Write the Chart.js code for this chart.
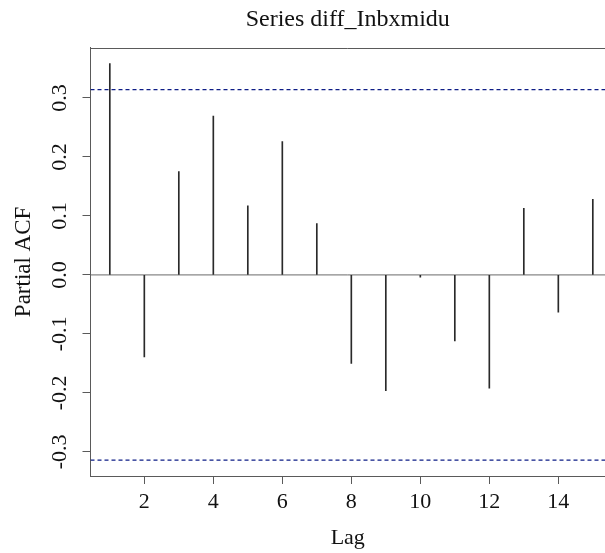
<!DOCTYPE html>
<html>
<head>
<meta charset="utf-8">
<style>
  html, body { margin: 0; padding: 0; background: #fff; }
  #c { display: block; }
</style>
<script src="https://cdn.jsdelivr.net/npm/chart.js@4.4.1/dist/chart.umd.min.js"></script>
</head>
<body>
<canvas id="c" width="605" height="553"></canvas>
<script>
// ---- data ----
const lags = [1, 2, 3, 4, 5, 6, 7, 8, 9, 10, 11, 12, 13, 14, 15];
const pacfValues = [0.358, -0.139, 0.175, 0.269, 0.117, 0.226, 0.087, -0.150, -0.196, -0.004, -0.112, -0.192, 0.113, -0.063, 0.128];
const confLimit = 0.3139;
const yTickValues = [-0.3, -0.2, -0.1, 0.0, 0.1, 0.2, 0.3];
const xTickValues = [2, 4, 6, 8, 10, 12, 14];
const titleText = 'Series diff_Inbxmidu';
const xLabel = 'Lag';
const yLabel = 'Partial ACF';

// axis ranges (R style: data range extended by 4%)
const xMin = 0.44, xMax = 15.353;
const yLo = Math.min(-confLimit, ...pacfValues), yHi = Math.max(confLimit, ...pacfValues);
const ySpan = yHi - yLo;
const yMin = yLo - 0.04 * ySpan, yMax = yHi + 0.04 * ySpan;

const FONT = 'Liberation Serif';
const AXIS = '#5a5a5a';
const DASH = '#0d1c86';

const spikes = lags.map((l, i) => ({ x: l, y: pacfValues[i] }));
const hline = v => [{ x: xMin, y: v }, { x: xMax, y: v }];

const topBorder = {
  id: 'topBorder',
  afterDraw(chart) {
    const { ctx, chartArea } = chart;
    ctx.save();
    ctx.strokeStyle = AXIS;
    ctx.lineWidth = 1;
    const y = Math.round(chartArea.top) + 0.5;
    ctx.beginPath();
    ctx.moveTo(chartArea.left, y);
    ctx.lineTo(chartArea.right, y);
    ctx.stroke();
    ctx.restore();
  }
};

new Chart(document.getElementById('c'), {
  data: {
    datasets: [
      { type: 'line', data: hline(0), borderColor: '#6a6a6a', borderWidth: 1, pointRadius: 0, order: 3 },
      { type: 'line', data: hline(confLimit), borderColor: DASH, borderWidth: 1.2, borderDash: [4, 3], pointRadius: 0, order: 2 },
      { type: 'line', data: hline(-confLimit), borderColor: DASH, borderWidth: 1.2, borderDash: [4, 3], pointRadius: 0, order: 2 },
      { type: 'bar', data: spikes, backgroundColor: '#2a2a2a', borderWidth: 0, barThickness: 1, order: 1 }
    ]
  },
  options: {
    responsive: false,
    devicePixelRatio: 1,
    animation: false,
    layout: { padding: 0 },
    plugins: {
      legend: { display: false },
      tooltip: { enabled: false },
      title: {
        display: true,
        text: titleText,
        fullSize: false,
        color: '#111',
        font: { family: FONT, size: 24, weight: 'normal' },
        padding: { top: 5, bottom: 14 }
      }
    },
    scales: {
      x: {
        type: 'linear',
        offset: false,
        min: xMin,
        max: xMax,
        afterBuildTicks: s => { s.ticks = xTickValues.map(v => ({ value: v })); },
        afterFit: s => { s.height = 77; },
        grid: { display: true, offset: false, drawOnChartArea: false, drawTicks: true, tickLength: 8, color: AXIS },
        border: { display: true, color: AXIS, width: 1 },
        ticks: {
          color: '#111',
          font: { family: FONT, size: 22 },
          padding: 5,
          maxRotation: 0,
          minRotation: 0,
          callback: v => String(v)
        },
        title: {
          display: true,
          text: xLabel,
          color: '#111',
          font: { family: FONT, size: 22 },
          padding: { top: 0, bottom: 2 }
        }
      },
      y: {
        type: 'linear',
        min: yMin,
        max: yMax,
        afterBuildTicks: s => { s.ticks = yTickValues.map(v => ({ value: v })); },
        afterFit: s => { s.width = 90.5; },
        grid: { display: true, drawOnChartArea: false, drawTicks: true, tickLength: 8, color: AXIS },
        border: { display: true, color: AXIS, width: 1 },
        ticks: {
          color: '#111',
          font: { family: FONT, size: 22 },
          padding: 5,
          minRotation: 90,
          maxRotation: 90,
          crossAlign: 'center',
          callback: v => Number(v).toFixed(1)
        },
        title: {
          display: true,
          text: yLabel,
          color: '#111',
          font: { family: FONT, size: 23 },
          padding: { top: 10, bottom: 0 }
        }
      }
    }
  },
  plugins: [topBorder]
});
</script>
</body>
</html>
